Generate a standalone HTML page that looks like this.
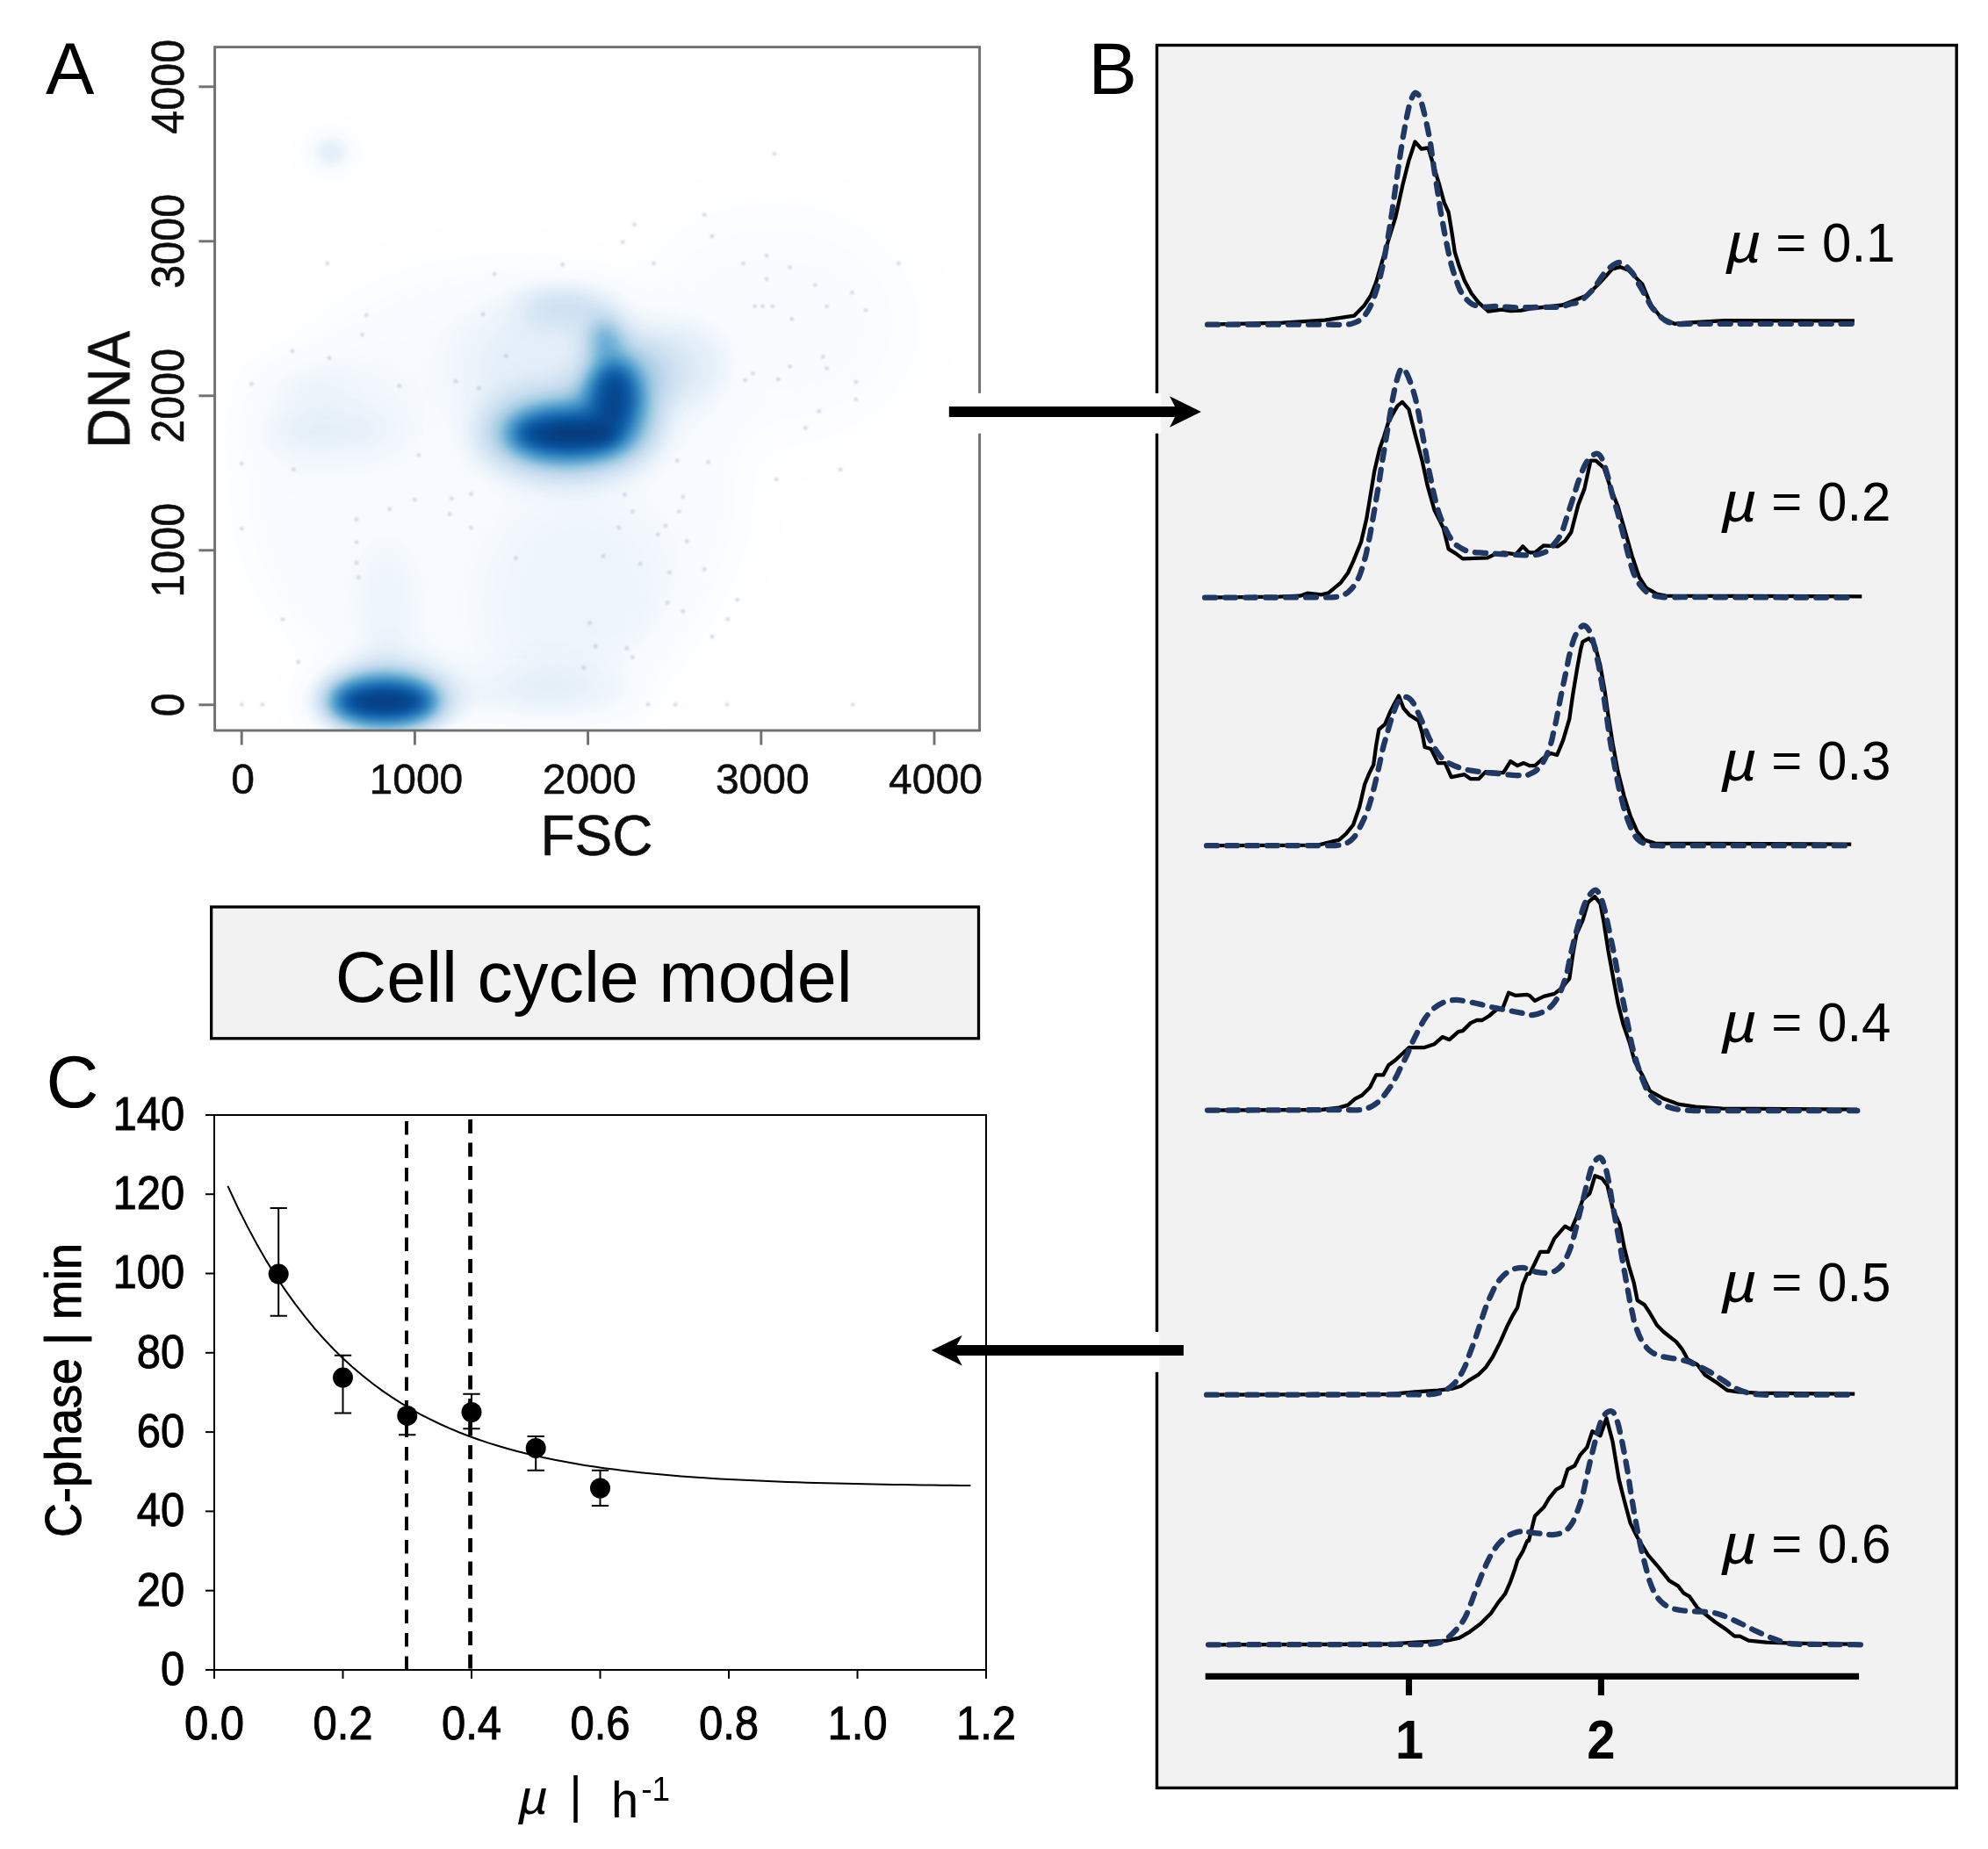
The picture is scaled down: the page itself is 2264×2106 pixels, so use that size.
<!DOCTYPE html>
<html lang="en">
<head>
<meta charset="utf-8">
<title>Cell cycle model figure</title>
<style>
html,body{margin:0;padding:0;background:#fff;}
body{width:2264px;height:2106px;overflow:hidden;}
svg{display:block;}
text{font-family:"Liberation Sans", Arial, Helvetica, sans-serif;fill:#000;}
.al{fill:#0a0a0a;stroke:#0a0a0a;stroke-width:0.5px;}
</style>
</head>
<body>
<svg width="2264" height="2106" viewBox="0 0 2264 2106">
<defs>
<filter id="ramp" x="0" y="0" width="100%" height="100%" color-interpolation-filters="sRGB">
<feComponentTransfer>
<feFuncR type="table" tableValues="0.031 0.031 0.129 0.259 0.420 0.620 0.776 0.871 0.969 1"/>
<feFuncG type="table" tableValues="0.188 0.318 0.443 0.573 0.682 0.792 0.859 0.922 0.984 1"/>
<feFuncB type="table" tableValues="0.420 0.612 0.710 0.776 0.839 0.882 0.937 0.969 1 1"/>
</feComponentTransfer>
</filter>
<filter id="soft" filterUnits="userSpaceOnUse" x="0" y="0" width="1200" height="1000"><feGaussianBlur stdDeviation="0.75"/></filter>
<filter id="b1" filterUnits="userSpaceOnUse" x="150" y="0" width="1060" height="940"><feGaussianBlur stdDeviation="0.9"/></filter>
<filter id="b8" filterUnits="userSpaceOnUse" x="150" y="0" width="1060" height="940"><feGaussianBlur stdDeviation="8"/></filter>
<filter id="b12" filterUnits="userSpaceOnUse" x="150" y="0" width="1060" height="940"><feGaussianBlur stdDeviation="12"/></filter>
<filter id="b18" filterUnits="userSpaceOnUse" x="150" y="0" width="1060" height="940"><feGaussianBlur stdDeviation="18"/></filter>
<filter id="b30" filterUnits="userSpaceOnUse" x="150" y="0" width="1060" height="940"><feGaussianBlur stdDeviation="30"/></filter>
<clipPath id="clipA"><rect x="245" y="54" width="870" height="777"/></clipPath>
</defs>
<rect x="0" y="0" width="2264" height="2106" fill="#fff"/>

<!-- Panel A: density scatter -->
<g clip-path="url(#clipA)"><g filter="url(#ramp)">
<rect x="200" y="20" width="960" height="860" fill="#fff"/>
<ellipse cx="560" cy="560" rx="280" ry="250" fill="#000" fill-opacity="0.1" filter="url(#b30)"/>
<ellipse cx="880" cy="370" rx="160" ry="130" fill="#000" fill-opacity="0.07" filter="url(#b30)"/>
<ellipse cx="660" cy="690" rx="110" ry="130" fill="#000" fill-opacity="0.055" filter="url(#b30)"/>
<ellipse cx="370" cy="468" rx="100" ry="50" fill="#000" fill-opacity="0.055" filter="url(#b30)"/>
<ellipse cx="365" cy="493" rx="95" ry="13" fill="#000" fill-opacity="0.1" filter="url(#b18)"/>
<ellipse cx="330" cy="437" rx="60" ry="13" fill="#000" fill-opacity="0.08" filter="url(#b18)"/>
<ellipse cx="440" cy="700" rx="30" ry="80" fill="#000" fill-opacity="0.065" filter="url(#b18)"/>
<ellipse cx="630" cy="795" rx="110" ry="28" fill="#000" fill-opacity="0.1" filter="url(#b18)"/>
<ellipse cx="377" cy="173" rx="24" ry="20" fill="#000" fill-opacity="0.24" filter="url(#b12)"/>
<ellipse cx="785" cy="410" rx="50" ry="45" fill="#000" fill-opacity="0.115" filter="url(#b18)"/>
<ellipse cx="640" cy="420" rx="120" ry="90" fill="#000" fill-opacity="0.1" filter="url(#b30)"/>
<ellipse cx="648" cy="348" rx="58" ry="12" fill="#000" fill-opacity="0.34" filter="url(#b18)"/>
<ellipse cx="689" cy="386" rx="19" ry="24" fill="#000" fill-opacity="0.42" filter="url(#b12)"/>
<ellipse cx="645" cy="495" rx="100" ry="50" fill="#000" fill-opacity="0.38" filter="url(#b18)"/>
<ellipse cx="708" cy="445" rx="50" ry="60" fill="#000" fill-opacity="0.32" filter="url(#b18)"/>
<ellipse cx="647" cy="494" rx="67" ry="28" fill="#000" fill-opacity="0.87" filter="url(#b12)"/>
<ellipse cx="700" cy="450" rx="29" ry="40" fill="#000" fill-opacity="0.83" filter="url(#b12)"/>
<ellipse cx="655" cy="495" rx="42" ry="11" fill="#000" fill-opacity="0.4" filter="url(#b8)"/>
<ellipse cx="437" cy="798" rx="88" ry="42" fill="#000" fill-opacity="0.36" filter="url(#b18)"/>
<ellipse cx="437" cy="799" rx="61" ry="27" fill="#000" fill-opacity="0.88" filter="url(#b12)"/>
<ellipse cx="437" cy="800" rx="32" ry="10" fill="#000" fill-opacity="0.42" filter="url(#b8)"/>
</g>
<g fill="#7f8db3" fill-opacity="0.32" filter="url(#b1)">
<circle cx="881.9" cy="175.3" r="2.3"/>
<circle cx="802.2" cy="244.8" r="2.3"/>
<circle cx="722.5" cy="255.8" r="2.3"/>
<circle cx="811" cy="269.1" r="2.3"/>
<circle cx="709.2" cy="275.8" r="2.3"/>
<circle cx="372.8" cy="300.1" r="2.3"/>
<circle cx="640.6" cy="301.4" r="2.3"/>
<circle cx="744.6" cy="300.1" r="2.3"/>
<circle cx="846.5" cy="300.1" r="2.3"/>
<circle cx="873" cy="291.3" r="2.3"/>
<circle cx="899.6" cy="304.5" r="2.3"/>
<circle cx="1023.5" cy="300.1" r="2.3"/>
<circle cx="563.2" cy="312.1" r="2.3"/>
<circle cx="873" cy="317.8" r="2.3"/>
<circle cx="928.4" cy="324.5" r="2.3"/>
<circle cx="970.4" cy="333.3" r="2.3"/>
<circle cx="859.7" cy="348.8" r="2.3"/>
<circle cx="868.6" cy="348.8" r="2.3"/>
<circle cx="879.7" cy="348.8" r="2.3"/>
<circle cx="941.6" cy="348.8" r="2.3"/>
<circle cx="985.9" cy="353.2" r="2.3"/>
<circle cx="417.1" cy="359" r="2.3"/>
<circle cx="549.9" cy="357.7" r="2.3"/>
<circle cx="901.8" cy="363.4" r="2.3"/>
<circle cx="412.6" cy="381.1" r="2.3"/>
<circle cx="333" cy="399.7" r="2.3"/>
<circle cx="375" cy="407.7" r="2.3"/>
<circle cx="576.4" cy="405.5" r="2.3"/>
<circle cx="937.2" cy="406.4" r="2.3"/>
<circle cx="899.6" cy="417.4" r="2.3"/>
<circle cx="941.6" cy="419.6" r="2.3"/>
<circle cx="857.5" cy="425.4" r="2.3"/>
<circle cx="886.3" cy="432" r="2.3"/>
<circle cx="848.7" cy="432.9" r="2.3"/>
<circle cx="974.8" cy="435.1" r="2.3"/>
<circle cx="286.5" cy="437.3" r="2.3"/>
<circle cx="454.7" cy="439.6" r="2.3"/>
<circle cx="518.9" cy="434.2" r="2.3"/>
<circle cx="545.4" cy="442.2" r="2.3"/>
<circle cx="974.8" cy="455" r="2.3"/>
<circle cx="932.8" cy="468.3" r="2.3"/>
<circle cx="917.3" cy="487.4" r="2.3"/>
<circle cx="476.8" cy="518.3" r="2.3"/>
<circle cx="771.2" cy="524.5" r="2.3"/>
<circle cx="806.6" cy="526.3" r="2.3"/>
<circle cx="275.4" cy="528.1" r="2.3"/>
<circle cx="334.3" cy="534.7" r="2.3"/>
<circle cx="957.1" cy="534.7" r="2.3"/>
<circle cx="884.1" cy="545.8" r="2.3"/>
<circle cx="711.4" cy="563.5" r="2.3"/>
<circle cx="536.6" cy="562.6" r="2.3"/>
<circle cx="514.5" cy="567.9" r="2.3"/>
<circle cx="472.4" cy="569.3" r="2.3"/>
<circle cx="777.8" cy="565.7" r="2.3"/>
<circle cx="443.6" cy="579.9" r="2.3"/>
<circle cx="720.3" cy="582.5" r="2.3"/>
<circle cx="773.4" cy="582.5" r="2.3"/>
<circle cx="512.2" cy="585.6" r="2.3"/>
<circle cx="406" cy="591.4" r="2.3"/>
<circle cx="757.9" cy="598.9" r="2.3"/>
<circle cx="536.6" cy="601.1" r="2.3"/>
<circle cx="704.8" cy="601.1" r="2.3"/>
<circle cx="275.4" cy="602" r="2.3"/>
<circle cx="749.1" cy="608.7" r="2.3"/>
<circle cx="782.3" cy="616.6" r="2.3"/>
<circle cx="406" cy="617.5" r="2.3"/>
<circle cx="687.1" cy="633.4" r="2.3"/>
<circle cx="587.5" cy="635.7" r="2.3"/>
<circle cx="406" cy="641" r="2.3"/>
<circle cx="729.2" cy="642.3" r="2.3"/>
<circle cx="802.2" cy="648.5" r="2.3"/>
<circle cx="762.4" cy="652" r="2.3"/>
<circle cx="408.2" cy="657.8" r="2.3"/>
<circle cx="839.8" cy="683" r="2.3"/>
<circle cx="760.1" cy="686.6" r="2.3"/>
<circle cx="777.8" cy="696.3" r="2.3"/>
<circle cx="828.8" cy="705.2" r="2.3"/>
<circle cx="321.9" cy="705.2" r="2.3"/>
<circle cx="671.6" cy="709.6" r="2.3"/>
<circle cx="811" cy="725.1" r="2.3"/>
<circle cx="678.2" cy="736.1" r="2.3"/>
<circle cx="713.7" cy="738.4" r="2.3"/>
<circle cx="720.3" cy="748.5" r="2.3"/>
<circle cx="665" cy="760.5" r="2.3"/>
<circle cx="339.6" cy="753.9" r="2.3"/>
<circle cx="275.4" cy="802.5" r="2.3"/>
<circle cx="298.9" cy="802.5" r="2.3"/>
<circle cx="738" cy="802.5" r="2.3"/>
<circle cx="769" cy="802.5" r="2.3"/>
<circle cx="827.9" cy="802.5" r="2.3"/>
<circle cx="971.3" cy="802.5" r="2.3"/>
</g></g>
<g filter="url(#soft)">
<g stroke="#6f6f6f" stroke-width="2.9" fill="none">
<rect x="244.6" y="53.6" width="871" height="778.4"/>
<line x1="226.5" y1="98.8" x2="244.6" y2="98.8"/>
<line x1="226.5" y1="274.8" x2="244.6" y2="274.8"/>
<line x1="226.5" y1="450.8" x2="244.6" y2="450.8"/>
<line x1="226.5" y1="626.8" x2="244.6" y2="626.8"/>
<line x1="226.5" y1="802.8" x2="244.6" y2="802.8"/>
<line x1="275.2" y1="832" x2="275.2" y2="848.5"/>
<line x1="472.4" y1="832" x2="472.4" y2="848.5"/>
<line x1="669.6" y1="832" x2="669.6" y2="848.5"/>
<line x1="866.8" y1="832" x2="866.8" y2="848.5"/>
<line x1="1064" y1="832" x2="1064" y2="848.5"/>
</g>
<text class="al" transform="translate(208.5 98.8) rotate(-90) scale(1 1.05)" font-size="48.5" text-anchor="middle">4000</text>
<text class="al" transform="translate(208.5 274.8) rotate(-90) scale(1 1.05)" font-size="48.5" text-anchor="middle">3000</text>
<text class="al" transform="translate(208.5 450.8) rotate(-90) scale(1 1.05)" font-size="48.5" text-anchor="middle">2000</text>
<text class="al" transform="translate(208.5 626.8) rotate(-90) scale(1 1.05)" font-size="48.5" text-anchor="middle">1000</text>
<text class="al" transform="translate(208.5 802.8) rotate(-90) scale(1 1.05)" font-size="48.5" text-anchor="middle">0</text>
<text class="al" x="276.7" y="904" font-size="48" text-anchor="middle">0</text>
<text class="al" x="473.9" y="904" font-size="48" text-anchor="middle">1000</text>
<text class="al" x="671.1" y="904" font-size="48" text-anchor="middle">2000</text>
<text class="al" x="868.3" y="904" font-size="48" text-anchor="middle">3000</text>
<text class="al" x="1065.5" y="904" font-size="48" text-anchor="middle">4000</text>
<text class="al" transform="translate(147.7 444) rotate(-90) scale(1 1.07)" font-size="63.5" text-anchor="middle">DNA</text>
<text class="al" x="679.5" y="974" font-size="64" text-anchor="middle">FSC</text>
</g>
<text x="52" y="106.7" font-size="83">A</text>
<!-- Panel B -->
<rect x="1317.5" y="51.5" width="910.7" height="1984.9" fill="#f2f2f2" stroke="#000" stroke-width="3.4"/>
<text x="1239.5" y="107" font-size="83">B</text>
<path d="M1375.1 369.7 L1460.6 367.7 L1508.9 364.7 L1542.1 359.7 L1553.2 348.6 L1561.2 336.5 L1567.2 321.4 L1575.3 293.3 L1581.3 273.2 L1589.4 247 L1597.4 210.8 L1604.5 182.6 L1611.5 161.5 L1618.6 169.5 L1626.6 168.5 L1632.6 188.7 L1638.7 208.8 L1644.7 230.9 L1649.7 242 L1653.8 267.1 L1656.8 287.2 L1661.8 303.3 L1667.8 319.4 L1675.9 334.5 L1683.9 344.6 L1695 354.6 L1710.1 352.6 L1720.2 354 L1732.2 353.6 L1742.3 351.6 L1779.4 347.5 L1807.8 336.2 L1822 322 L1836.2 306.4 L1844.7 304.1 L1854.6 307.8 L1870.2 323.4 L1880.2 347.5 L1892.9 363.1 L1907.1 368.8 L1915.6 368 L1963.8 365.1 L2111.9 365.4" fill="none" stroke="#000" stroke-width="4.3" stroke-linejoin="round" stroke-linecap="butt"/>
<path d="M1375.1 369.7 C1378.3 369.7 1388.1 369.7 1394.6 369.7 C1401.1 369.7 1407.6 369.7 1414.1 369.7 C1420.6 369.7 1427.1 369.7 1433.6 369.7 C1440.1 369.7 1446.6 369.7 1453.1 369.7 C1459.6 369.7 1466.1 369.7 1472.6 369.7 C1479 369.7 1485.5 369.7 1492 369.7 C1498.5 369.7 1505 369.7 1511.5 369.7 C1518 369.7 1526.1 370 1531 369.7 C1536 369.5 1537.7 369.3 1541.1 368.1 C1544.4 367 1548.1 365.4 1551.1 362.7 C1554.2 359.9 1556.8 355.8 1559.2 351.6 C1561.5 347.4 1563.2 343.2 1565.2 337.5 C1567.2 331.8 1569.8 322.6 1571.3 317.4 C1572.7 312.2 1572.9 310 1573.8 306.4 C1574.6 302.7 1575.5 299.5 1576.3 295.3 C1577.1 291.1 1578 285.9 1578.8 281.2 C1579.7 276.5 1580.6 271.6 1581.3 267.1 C1582.1 262.6 1582.7 258.4 1583.3 254 C1584 249.7 1584.7 245.5 1585.4 241 C1586 236.4 1586.7 231.6 1587.4 226.9 C1588 222.2 1588.7 217.5 1589.4 212.8 C1590 208.1 1590.7 203.4 1591.4 198.7 C1592.1 194 1592.7 189.2 1593.4 184.6 C1594.1 180.1 1594.7 175.9 1595.4 171.5 C1596.1 167.2 1596.8 162.5 1597.4 158.5 C1598.1 154.4 1598.8 151.1 1599.4 147.4 C1600.1 143.7 1600.4 141.2 1601.4 136.3 C1602.5 131.5 1604.1 122.9 1605.5 118.2 C1606.8 113.5 1608.3 110.2 1609.5 108.2 C1610.7 106.1 1611.3 105.4 1612.5 105.8 C1613.7 106.1 1615.2 107.3 1616.5 110.2 C1617.9 113.1 1619.2 118.2 1620.6 123.3 C1621.9 128.3 1623.2 134.2 1624.6 140.4 C1625.9 146.6 1627.6 154.8 1628.6 160.5 C1629.6 166.2 1630 169.9 1630.6 174.6 C1631.3 179.3 1632 184.1 1632.6 188.7 C1633.3 193.2 1634 197.4 1634.6 201.7 C1635.3 206.1 1636 210.4 1636.7 214.8 C1637.3 219.2 1638 223.5 1638.7 227.9 C1639.3 232.2 1640 236.9 1640.7 241 C1641.4 245 1642 248.3 1642.7 252 C1643.4 255.7 1643.7 257.9 1644.7 263.1 C1645.7 268.3 1647.4 276.8 1648.7 283.2 C1650.1 289.6 1651.2 295.6 1652.8 301.3 C1654.3 307 1656.1 312.6 1657.8 317.4 C1659.5 322.3 1661 326.8 1662.8 330.5 C1664.7 334.2 1666.5 336.9 1668.9 339.6 C1671.2 342.2 1673.4 344.9 1676.9 346.6 C1680.4 348.3 1685.8 349.2 1690 349.6 C1694.2 350 1697.8 349 1702.1 349 C1706.3 349 1710.8 349.5 1715.2 349.7 C1719.6 349.9 1723.5 350.3 1728.4 350.4 C1733.2 350.4 1739.1 350.2 1744.4 350.1 C1749.8 350 1755.2 349.9 1760.5 349.8 C1765.9 349.7 1772 350.1 1776.6 349.5 C1781.2 348.9 1784.2 347.4 1787.9 346.4 C1791.7 345.4 1795 345.9 1799.3 343.3 C1803.6 340.6 1809.9 334.3 1813.5 330.5 C1817 326.7 1818.2 323.9 1820.6 320.6 C1822.9 317.3 1824.6 314 1827.7 310.6 C1830.7 307.3 1835.7 302.5 1839 300.7 C1842.3 298.9 1844.2 298.2 1847.5 299.9 C1850.8 301.5 1856 307.2 1858.9 310.6 C1861.7 314.1 1862.7 317.3 1864.5 320.6 C1866.4 323.9 1868.3 327.2 1870.2 330.5 C1872.1 333.8 1874 337.1 1875.9 340.4 C1877.8 343.7 1878.3 346.3 1881.6 350.4 C1884.9 354.4 1891 361.5 1895.8 364.5 C1900.5 367.6 1904.2 368.1 1909.9 368.8 C1915.7 369.5 1923.4 368.8 1930.1 368.8 C1936.9 368.8 1943.6 368.8 1950.3 368.8 C1957.1 368.8 1963.8 368.8 1970.5 368.8 C1977.3 368.8 1984 368.8 1990.7 368.8 C1997.5 368.8 2004.2 368.8 2010.9 368.8 C2017.7 368.8 2024.4 368.8 2031.1 368.8 C2037.9 368.8 2044.6 368.8 2051.3 368.8 C2058.1 368.8 2064.8 368.8 2071.5 368.8 C2078.3 368.8 2085 368.8 2091.7 368.8 C2098.5 368.8 2108.6 368.8 2111.9 368.8" fill="none" stroke="#1f3864" stroke-width="6.3" stroke-linejoin="round" stroke-linecap="round" stroke-dasharray="12 11"/>
<path d="M1372.1 680.7 L1456.6 679.7 L1480.7 678.7 L1488.8 675.7 L1504.9 677.3 L1512.9 675.3 L1527 663.6 L1535.1 652.5 L1541.1 639.4 L1550.1 617.3 L1556.2 591.1 L1561.2 561 L1565.2 536.8 L1571.3 510.7 L1576.3 496.6 L1581.3 480.5 L1587.4 469.4 L1591.4 462.4 L1597 457.9 L1604.5 466.4 L1611.5 494.6 L1619.6 524.7 L1625.6 552.9 L1633.6 581.1 L1643.7 601.2 L1649.7 625.4 L1657.8 630.4 L1665.8 636.4 L1694 635.4 L1702.1 631.4 L1712.1 629.4 L1726.2 631.4 L1734.2 622.3 L1740.3 628.4 L1743 629.4 L1748 629.4 L1758.1 621.3 L1774.2 622.3 L1782.3 616.3 L1789.3 606.2 L1797.3 575.1 L1804.4 556.9 L1811.4 524.7 L1817.5 524.7 L1826.5 532.8 L1834.6 556.9 L1842.6 577.1 L1850.7 605.2 L1858.7 633.4 L1866.8 657.5 L1874.8 669.6 L1886.9 676.7 L1896.9 678.7 L2120.3 679.3" fill="none" stroke="#000" stroke-width="4.3" stroke-linejoin="round" stroke-linecap="butt"/>
<path d="M1372.1 680.7 C1375.5 680.7 1385.9 680.6 1392.8 680.6 C1399.7 680.6 1406.6 680.6 1413.5 680.6 C1420.4 680.5 1427.3 680.5 1434.2 680.5 C1441.1 680.5 1448 680.5 1454.9 680.5 C1461.8 680.4 1468.7 680.4 1475.6 680.4 C1482.4 680.4 1489.3 680.4 1496.2 680.3 C1503.1 680.3 1511.8 680.6 1516.9 680.3 C1522.1 680 1524 679.6 1527 678.7 C1530 677.7 1532.4 676.8 1535.1 674.6 C1537.7 672.5 1540.8 669.1 1543.1 665.6 C1545.4 662.1 1547.1 658.9 1549.1 653.5 C1551.1 648.2 1553.7 638.8 1555.2 633.4 C1556.6 628 1556.8 625.4 1557.7 621.3 C1558.5 617.3 1559.4 613.6 1560.2 609.3 C1561 604.9 1561.9 599.9 1562.7 595.2 C1563.6 590.5 1564.4 585.9 1565.2 581.1 C1566.1 576.2 1566.9 571 1567.7 566 C1568.6 561 1569.5 555.6 1570.3 550.9 C1571 546.2 1571.6 542.2 1572.3 537.8 C1572.9 533.5 1573.6 528.9 1574.3 524.7 C1575 520.6 1575.6 516.7 1576.3 512.7 C1577 508.7 1577.6 504.6 1578.3 500.6 C1579 496.6 1579.7 492.6 1580.3 488.5 C1581 484.5 1581.7 480.5 1582.3 476.5 C1583 472.4 1583.7 468.4 1584.3 464.4 C1585 460.4 1585.4 457.3 1586.4 452.3 C1587.4 447.3 1589 439.2 1590.4 434.2 C1591.7 429.2 1593.3 424.6 1594.4 422.1 C1595.5 419.6 1595.8 418.8 1597 419.1 C1598.2 419.5 1599.9 421.3 1601.4 424.1 C1603 427 1604.8 431.5 1606.5 436.2 C1608.2 440.9 1610 446.6 1611.5 452.3 C1613 458 1614.5 465.6 1615.5 470.4 C1616.5 475.3 1616.9 477.8 1617.5 481.5 C1618.2 485.2 1618.9 488.9 1619.6 492.6 C1620.2 496.2 1620.9 499.9 1621.6 503.6 C1622.2 507.3 1622.9 511 1623.6 514.7 C1624.3 518.4 1624.9 522.1 1625.6 525.8 C1626.3 529.4 1626.9 533 1627.6 536.8 C1628.4 540.7 1629.3 544.9 1630.1 548.9 C1631 552.9 1631.4 555.6 1632.6 561 C1633.9 566.3 1635.8 575.1 1637.7 581.1 C1639.5 587.1 1641.7 592.5 1643.7 597.2 C1645.7 601.9 1647.7 605.7 1649.7 609.3 C1651.8 612.8 1653.4 615.8 1655.8 618.3 C1658.1 620.8 1660.8 622.7 1663.8 624.3 C1666.8 626 1669.5 627.5 1673.9 628.4 C1678.2 629.3 1685.3 629.4 1690 629.8 C1694.7 630.1 1698 630.3 1702.1 630.6 C1706.1 630.9 1710.1 631.2 1714.1 631.4 C1718.1 631.6 1722.2 631.7 1726.2 631.9 C1730.2 632.1 1735.6 632.3 1738.3 632.4 C1740.9 632.5 1739.7 632.6 1742 632.4 C1744.3 632.2 1748.7 632.2 1752.1 631.4 C1755.4 630.5 1759.1 629.4 1762.1 627.4 C1765.2 625.4 1767.5 622.7 1770.2 619.3 C1772.9 616 1775.9 612.3 1778.2 607.2 C1780.6 602.2 1782.3 595.2 1784.3 589.1 C1786.3 583.1 1788.7 575.9 1790.3 571 C1791.9 566.2 1792.6 563.6 1793.8 560 C1795 556.3 1795.6 553.8 1797.3 548.9 C1799.1 544 1802.2 535.3 1804.4 530.8 C1806.6 526.3 1808.1 524.1 1810.4 521.7 C1812.8 519.4 1816.1 516.5 1818.5 516.7 C1820.8 516.9 1822.5 518.7 1824.5 522.7 C1826.5 526.8 1829 535.8 1830.5 540.8 C1832.1 545.9 1832.6 548.9 1833.6 552.9 C1834.6 556.9 1835.1 559.6 1836.6 565 C1838.1 570.4 1841.1 579.7 1842.6 585.1 C1844.1 590.5 1844.6 593.2 1845.6 597.2 C1846.6 601.2 1847.6 605.2 1848.7 609.3 C1849.7 613.3 1850.7 617.3 1851.7 621.3 C1852.7 625.4 1853.2 628 1854.7 633.4 C1856.2 638.8 1858.4 647.8 1860.7 653.5 C1863.1 659.2 1865.8 663.7 1868.8 667.6 C1871.8 671.5 1874.8 674.6 1878.8 676.7 C1882.9 678.7 1886.9 679.5 1892.9 680.1 C1898.9 680.7 1907.5 680.1 1914.8 680.1 C1922.2 680.2 1929.5 680.2 1936.8 680.2 C1944.1 680.2 1951.4 680.2 1958.7 680.3 C1966 680.3 1973.3 680.3 1980.6 680.3 C1988 680.3 1995.3 680.4 2002.6 680.4 C2009.9 680.4 2017.2 680.4 2024.5 680.4 C2031.8 680.5 2039.1 680.5 2046.4 680.5 C2053.7 680.5 2061.1 680.5 2068.4 680.6 C2075.7 680.6 2083 680.6 2090.3 680.6 C2097.6 680.6 2108.6 680.7 2112.2 680.7" fill="none" stroke="#1f3864" stroke-width="6.3" stroke-linejoin="round" stroke-linecap="round" stroke-dasharray="12 11"/>
<path d="M1374.1 963.2 L1500.8 962.6 L1512.9 959.6 L1525 956.6 L1533 949.6 L1541.1 939.5 L1548.1 919.4 L1554.2 893.2 L1559.2 881.1 L1564.2 871.1 L1567.2 849 L1570.3 830.8 L1577.3 824.8 L1583.3 810.7 L1588.4 800.7 L1593 792.6 L1598.4 806.7 L1605.5 814.7 L1615.5 820.8 L1619.6 834.9 L1622.6 851 L1629.6 853 L1637.7 869.1 L1645.7 869.1 L1652.8 885.2 L1667.8 882.2 L1674.9 887.2 L1683.9 887.2 L1692 879.1 L1712.1 880.1 L1720.2 867.1 L1728.2 872.1 L1735.3 869.1 L1742 872.1 L1748 872.1 L1758.1 863 L1766.2 858 L1773.2 860 L1780.2 842.9 L1787.3 818.8 L1791.3 790.6 L1796.3 760.4 L1800.4 738.3 L1802.4 731.2 L1809.4 727.2 L1816.5 735.3 L1822.5 758.4 L1827.5 786.6 L1831.5 814.7 L1836.6 846.9 L1842.6 879.1 L1849.7 907.3 L1856.7 929.4 L1864.7 947.5 L1872.8 956.6 L1884.9 960.6 L2108.2 961.6" fill="none" stroke="#000" stroke-width="4.3" stroke-linejoin="round" stroke-linecap="butt"/>
<path d="M1374.1 963.2 C1377.6 963.2 1388.1 963.2 1395.1 963.2 C1402.1 963.2 1409.1 963.2 1416.1 963.2 C1423 963.2 1430 963.2 1437 963.2 C1444 963.1 1451 963.1 1458 963.1 C1465 963.1 1472 963.1 1479 963.1 C1486 963.1 1493 963.1 1500 963.1 C1507 963.1 1515.5 963.4 1521 963 C1526.5 962.6 1529.5 962.2 1533 960.6 C1536.6 959 1539.2 957.1 1542.1 953.6 C1544.9 950.1 1547.6 944.5 1550.1 939.5 C1552.7 934.5 1555.2 928.8 1557.2 923.4 C1559.2 918 1560.5 913.3 1562.2 907.3 C1563.9 901.3 1565.7 893.6 1567.2 887.2 C1568.8 880.8 1569.9 875.1 1571.3 869.1 C1572.6 863 1574 856.3 1575.3 851 C1576.6 845.6 1578 841.6 1579.3 836.9 C1580.7 832.2 1582 827.2 1583.3 822.8 C1584.7 818.4 1586 814.4 1587.4 810.7 C1588.7 807 1589.9 803.3 1591.4 800.7 C1592.9 798 1594.4 795.6 1596.4 794.6 C1598.4 793.6 1601.3 793.6 1603.5 794.6 C1605.6 795.6 1607.5 797.6 1609.5 800.7 C1611.5 803.7 1613.5 808.4 1615.5 812.7 C1617.5 817.1 1619.6 822.1 1621.6 826.8 C1623.6 831.5 1625.3 836.2 1627.6 840.9 C1630 845.6 1633 851 1635.7 855 C1638.3 859 1640.7 862.4 1643.7 865.1 C1646.7 867.7 1649.7 869.2 1653.8 871.1 C1657.8 872.9 1662.5 874.8 1667.8 876.1 C1673.2 877.5 1679.6 878.3 1686 879.1 C1692.3 880 1699.4 880.5 1706.1 881.1 C1712.8 881.8 1720.8 882.9 1726.2 883.2 C1731.6 883.4 1735.8 882.7 1738.3 882.6 C1740.7 882.4 1739 883.1 1741 882.2 C1743 881.2 1747 880 1750.1 877.1 C1753.1 874.3 1756.4 870.1 1759.1 865.1 C1761.8 860 1764.5 852.1 1766.2 846.9 C1767.8 841.7 1768.2 838.2 1769.2 833.9 C1770.2 829.5 1771.3 825.1 1772.2 820.8 C1773.1 816.4 1773.9 812.1 1774.7 807.7 C1775.5 803.3 1776.4 798.8 1777.2 794.6 C1778.1 790.4 1778.9 786.6 1779.7 782.6 C1780.6 778.5 1781.4 774.5 1782.3 770.5 C1783.1 766.5 1783.9 762.4 1784.8 758.4 C1785.6 754.4 1786 751.4 1787.3 746.3 C1788.5 741.3 1790.6 732.9 1792.3 728.2 C1794 723.5 1795.5 720.8 1797.3 718.2 C1799.2 715.6 1801.2 712.4 1803.4 712.5 C1805.6 712.7 1808.2 714.9 1810.4 719.2 C1812.6 723.5 1815 733.1 1816.5 738.3 C1817.9 743.5 1818.1 746.3 1819 750.4 C1819.8 754.4 1820.7 758.4 1821.5 762.4 C1822.2 766.5 1822.8 770.5 1823.5 774.5 C1824.2 778.5 1824.8 782.2 1825.5 786.6 C1826.2 790.9 1826.9 796 1827.5 800.7 C1828.2 805.4 1828.9 810.1 1829.5 814.7 C1830.2 819.4 1830.9 824.1 1831.5 828.8 C1832.2 833.5 1832.8 838.2 1833.6 842.9 C1834.3 847.6 1835.2 852.3 1836.1 857 C1836.9 861.7 1837.8 866.6 1838.6 871.1 C1839.4 875.6 1840.3 879.8 1841.1 884.2 C1841.9 888.5 1842.7 893.1 1843.6 897.2 C1844.5 901.4 1845.6 905.3 1846.6 909.3 C1847.6 913.3 1848 916 1849.7 921.4 C1851.3 926.8 1854.2 935.8 1856.7 941.5 C1859.2 947.2 1861.7 952.2 1864.7 955.6 C1867.8 958.9 1871.1 960.4 1874.8 961.6 C1878.5 962.9 1881.5 963 1886.9 963.2 C1892.2 963.5 1900.3 963.2 1907 963.2 C1913.7 963.2 1920.4 963.2 1927.1 963.2 C1933.8 963.2 1940.5 963.2 1947.2 963.2 C1954 963.2 1960.7 963.2 1967.4 963.2 C1974.1 963.2 1980.8 963.2 1987.5 963.2 C1994.2 963.2 2000.9 963.2 2007.6 963.2 C2014.3 963.2 2021 963.2 2027.7 963.2 C2034.4 963.2 2041.1 963.2 2047.8 963.2 C2054.6 963.2 2061.3 963.2 2068 963.2 C2074.7 963.2 2081.4 963.2 2088.1 963.2 C2094.8 963.2 2104.9 963.2 2108.2 963.2" fill="none" stroke="#1f3864" stroke-width="6.3" stroke-linejoin="round" stroke-linecap="round" stroke-dasharray="12 11"/>
<path d="M1375.1 1264.6 L1504.9 1264 L1525 1261.6 L1535.1 1258.6 L1543.1 1251.6 L1551.1 1247.5 L1560.2 1238.5 L1567.2 1224.4 L1575.3 1224.4 L1581.3 1213.3 L1589.4 1207.3 L1604.5 1193.2 L1621.6 1193.2 L1633.6 1189.2 L1642.7 1181.1 L1650.7 1184.2 L1660.8 1175.1 L1665.8 1174.1 L1674.9 1165.1 L1681.9 1162 L1688 1162 L1696 1157 L1704.1 1150 L1711.1 1149 L1718.1 1130.8 L1726.2 1133.9 L1739.3 1132.9 L1742 1133.9 L1748 1139.9 L1758.1 1134.9 L1770.2 1131.9 L1778.2 1125.8 L1787.3 1114.7 L1791.3 1086.6 L1795.3 1064.4 L1802.4 1048.4 L1808.4 1028.2 L1816.1 1021.2 L1822.5 1029.2 L1826.5 1050.4 L1831.5 1082.6 L1836.6 1110.7 L1842.6 1142.9 L1848.7 1167.1 L1855.7 1187.2 L1861.7 1209.3 L1870.8 1225.4 L1878.8 1242.5 L1894.9 1251.6 L1911 1257.6 L1931.1 1260.6 L1961.3 1262.6 L2115.3 1263.6" fill="none" stroke="#000" stroke-width="4.3" stroke-linejoin="round" stroke-linecap="butt"/>
<path d="M1375.1 1264.6 C1378.7 1264.6 1389.6 1264.6 1396.8 1264.6 C1404.1 1264.5 1411.3 1264.5 1418.6 1264.5 C1425.9 1264.5 1433.1 1264.4 1440.4 1264.4 C1447.6 1264.4 1454.9 1264.4 1462.1 1264.3 C1469.4 1264.3 1476.6 1264.3 1483.9 1264.3 C1491.1 1264.2 1498.4 1264.2 1505.6 1264.2 C1512.9 1264.2 1520.1 1264.1 1527.4 1264.1 C1534.6 1264.1 1543.5 1264.6 1549.1 1264 C1554.8 1263.5 1557.5 1262.4 1561.2 1260.6 C1564.9 1258.9 1568.2 1256.4 1571.3 1253.6 C1574.3 1250.7 1576.6 1247.2 1579.3 1243.5 C1582 1239.8 1584.7 1236.1 1587.4 1231.4 C1590 1226.8 1592.9 1220.4 1595.4 1215.4 C1597.9 1210.3 1600.3 1206 1602.5 1201.3 C1604.6 1196.6 1606.3 1191.9 1608.5 1187.2 C1610.7 1182.5 1613 1177.8 1615.5 1173.1 C1618 1168.4 1620.6 1163.2 1623.6 1159 C1626.6 1154.8 1630 1151 1633.6 1147.9 C1637.3 1144.9 1641.7 1142.4 1645.7 1140.9 C1649.7 1139.4 1653.8 1139 1657.8 1138.9 C1661.8 1138.8 1665.2 1139.7 1669.9 1140.5 C1674.6 1141.3 1680.6 1142.7 1686 1143.9 C1691.3 1145.2 1696.7 1146.8 1702.1 1147.9 C1707.4 1149.1 1712.8 1150 1718.1 1151 C1723.5 1152 1729.6 1153.1 1734.2 1154 C1738.9 1154.8 1741.7 1156.5 1746 1156 C1750.3 1155.5 1756.1 1153.3 1760.1 1151 C1764.1 1148.6 1767.2 1145.9 1770.2 1141.9 C1773.2 1137.9 1775.9 1132.4 1778.2 1126.8 C1780.6 1121.3 1782.8 1113.7 1784.3 1108.7 C1785.7 1103.7 1785.9 1100.7 1786.8 1096.6 C1787.6 1092.6 1788 1089.9 1789.3 1084.6 C1790.6 1079.2 1792.6 1070.8 1794.3 1064.4 C1796 1058.1 1797.7 1052 1799.4 1046.3 C1801 1040.6 1802.5 1034.8 1804.4 1030.2 C1806.2 1025.7 1808.2 1021.9 1810.4 1019.2 C1812.6 1016.4 1815.3 1013.1 1817.5 1013.7 C1819.6 1014.4 1821.7 1018.8 1823.5 1023.2 C1825.3 1027.6 1827.3 1035.4 1828.5 1040.3 C1829.8 1045.2 1830.2 1048.4 1831 1052.4 C1831.9 1056.4 1832.7 1060.4 1833.6 1064.4 C1834.4 1068.5 1835.2 1072.5 1836.1 1076.5 C1836.9 1080.5 1837.8 1084.7 1838.6 1088.6 C1839.3 1092.4 1839.9 1096 1840.6 1099.7 C1841.3 1103.3 1841.6 1105.5 1842.6 1110.7 C1843.6 1115.9 1845.3 1124.1 1846.6 1130.8 C1848 1137.6 1849.3 1144.3 1850.7 1151 C1852 1157.7 1853.3 1164.4 1854.7 1171.1 C1856 1177.8 1857.2 1184.8 1858.7 1191.2 C1860.2 1197.6 1861.9 1203.3 1863.7 1209.3 C1865.6 1215.4 1867.6 1221.7 1869.8 1227.4 C1872 1233.1 1874.1 1239.2 1876.8 1243.5 C1879.5 1247.9 1882.5 1250.9 1885.9 1253.6 C1889.2 1256.3 1892.7 1257.9 1896.9 1259.6 C1901.1 1261.3 1905.3 1262.7 1911 1263.6 C1916.7 1264.5 1924.4 1264.8 1931.1 1265.1 C1937.9 1265.3 1944.8 1265.1 1951.6 1265.1 C1958.4 1265.1 1965.2 1265.1 1972.1 1265.1 C1978.9 1265.1 1985.7 1265.1 1992.5 1265.1 C1999.3 1265.1 2006.2 1265.1 2013 1265.1 C2019.8 1265.1 2026.6 1265.1 2033.4 1265.1 C2040.2 1265.1 2047.1 1265.1 2053.9 1265.1 C2060.7 1265.1 2067.5 1265.1 2074.3 1265.1 C2081.2 1265.1 2088 1265.1 2094.8 1265.1 C2101.6 1265.1 2111.8 1265.1 2115.3 1265.1" fill="none" stroke="#1f3864" stroke-width="6.3" stroke-linejoin="round" stroke-linecap="round" stroke-dasharray="12 11"/>
<path d="M1374.1 1588.7 L1581.3 1588.1 L1611.5 1585.3 L1637.7 1583.7 L1653.8 1581.7 L1663.8 1578.7 L1673.9 1571.6 L1683.9 1565.6 L1692 1557.5 L1700 1545.5 L1708.1 1529.4 L1716.1 1511.3 L1722.2 1499.2 L1728.2 1489.1 L1731.2 1475.1 L1734.2 1463 L1739.3 1450.9 L1742 1450.9 L1748 1438.8 L1754.1 1425.8 L1763.1 1425.8 L1770.2 1410.7 L1782.3 1396.6 L1789.3 1400.6 L1795.3 1386.5 L1802.4 1366.4 L1810.4 1359.4 L1816.5 1339.2 L1824.5 1342.3 L1830.5 1350.3 L1836.6 1376.5 L1844.6 1394.6 L1849.7 1420.7 L1854.7 1440.8 L1860.7 1461 L1864.7 1481.1 L1872.8 1486.1 L1878.8 1495.2 L1886.9 1509.3 L1894.9 1517.3 L1909 1528.4 L1916.1 1537.4 L1922.1 1548.5 L1933.2 1554.5 L1941.2 1565.6 L1953.3 1573.6 L1967.4 1583.7 L1979.4 1585.3 L2001.6 1586.7 L2112.2 1587.7" fill="none" stroke="#000" stroke-width="4.3" stroke-linejoin="round" stroke-linecap="butt"/>
<path d="M1374.1 1588.7 C1377.6 1588.7 1388.2 1588.7 1395.2 1588.7 C1402.3 1588.7 1409.3 1588.7 1416.3 1588.7 C1423.4 1588.7 1430.4 1588.6 1437.5 1588.6 C1444.5 1588.6 1451.5 1588.6 1458.6 1588.6 C1465.6 1588.6 1472.7 1588.6 1479.7 1588.6 C1486.8 1588.6 1493.8 1588.5 1500.8 1588.5 C1507.9 1588.5 1514.9 1588.5 1522 1588.5 C1529 1588.5 1536.1 1588.5 1543.1 1588.5 C1550.1 1588.5 1557.2 1588.4 1564.2 1588.4 C1571.3 1588.4 1578.3 1588.4 1585.4 1588.4 C1592.4 1588.4 1599.4 1588.4 1606.5 1588.4 C1613.5 1588.4 1621.7 1588.8 1627.6 1588.3 C1633.5 1587.9 1637.7 1587.2 1641.7 1585.7 C1645.7 1584.3 1648.7 1582 1651.8 1579.7 C1654.8 1577.3 1657.1 1575.3 1659.8 1571.6 C1662.5 1567.9 1665.5 1562.6 1667.8 1557.5 C1670.2 1552.5 1671.9 1546.8 1673.9 1541.4 C1675.9 1536.1 1677.9 1531.1 1679.9 1525.4 C1681.9 1519.7 1683.9 1513.3 1686 1507.2 C1688 1501.2 1690 1494.5 1692 1489.1 C1694 1483.8 1696 1479.4 1698 1475.1 C1700 1470.7 1701.7 1466.7 1704.1 1463 C1706.4 1459.3 1709.1 1455.8 1712.1 1452.9 C1715.1 1450.1 1718.5 1447.4 1722.2 1445.9 C1725.9 1444.4 1731.3 1443.9 1734.2 1443.9 C1737.2 1443.9 1737.4 1445 1740 1445.9 C1742.6 1446.7 1746.4 1448.2 1750.1 1448.9 C1753.7 1449.6 1758.4 1450.2 1762.1 1449.9 C1765.8 1449.6 1769.2 1448.7 1772.2 1446.9 C1775.2 1445 1777.7 1442.5 1780.2 1438.8 C1782.8 1435.1 1785.3 1429.8 1787.3 1424.7 C1789.3 1419.7 1790.6 1414.7 1792.3 1408.7 C1794 1402.6 1795.7 1395.2 1797.3 1388.5 C1799 1381.8 1800.7 1375.1 1802.4 1368.4 C1804.1 1361.7 1805.7 1354.7 1807.4 1348.3 C1809.1 1341.9 1810.6 1334.9 1812.4 1330.2 C1814.3 1325.5 1816.6 1322 1818.5 1320.1 C1820.3 1318.3 1821.8 1317.4 1823.5 1319.1 C1825.2 1320.8 1827 1325.3 1828.5 1330.2 C1830 1335 1831.5 1343.3 1832.6 1348.3 C1833.6 1353.3 1833.9 1356.3 1834.6 1360.4 C1835.2 1364.4 1835.9 1368.6 1836.6 1372.4 C1837.3 1376.3 1837.9 1379.8 1838.6 1383.5 C1839.3 1387.2 1839.9 1390.9 1840.6 1394.6 C1841.3 1398.3 1841.9 1401.9 1842.6 1405.6 C1843.3 1409.3 1844 1412.8 1844.6 1416.7 C1845.3 1420.6 1846 1424.7 1846.6 1428.8 C1847.3 1432.8 1848 1437 1848.7 1440.8 C1849.3 1444.7 1850 1448.2 1850.7 1451.9 C1851.3 1455.6 1852 1459.3 1852.7 1463 C1853.3 1466.7 1854 1470.4 1854.7 1474 C1855.4 1477.7 1855.9 1481.4 1856.7 1485.1 C1857.5 1488.8 1858.4 1492.5 1859.2 1496.2 C1860.1 1499.9 1860.1 1502.4 1861.7 1507.2 C1863.3 1512.1 1865.9 1520.2 1868.8 1525.4 C1871.6 1530.5 1875.1 1535.2 1878.8 1538.4 C1882.5 1541.6 1886.2 1543 1890.9 1544.5 C1895.6 1546 1902 1546.5 1907 1547.5 C1912 1548.5 1916.7 1549.2 1921.1 1550.5 C1925.4 1551.8 1928.8 1553.5 1933.2 1555.5 C1937.5 1557.5 1942.5 1559.9 1947.2 1562.6 C1951.9 1565.3 1956.6 1568.6 1961.3 1571.6 C1966 1574.6 1970.4 1578.2 1975.4 1580.7 C1980.4 1583.2 1986.1 1585.4 1991.5 1586.7 C1996.9 1588.1 2001.4 1588.4 2007.6 1588.7 C2013.8 1589.1 2021.6 1588.7 2028.5 1588.7 C2035.5 1588.7 2042.5 1588.7 2049.5 1588.7 C2056.4 1588.7 2063.4 1588.7 2070.4 1588.7 C2077.4 1588.7 2084.3 1588.7 2091.3 1588.7 C2098.3 1588.7 2108.7 1588.7 2112.2 1588.7" fill="none" stroke="#1f3864" stroke-width="6.3" stroke-linejoin="round" stroke-linecap="round" stroke-dasharray="12 11"/>
<path d="M1376.1 1873.3 L1581.3 1872.7 L1611.5 1870.7 L1631.6 1869.7 L1647.7 1868.7 L1661.8 1865.7 L1673.9 1858.6 L1686 1849.6 L1698 1837.5 L1706.1 1825.4 L1714.1 1815.4 L1720.2 1801.3 L1725.2 1787.2 L1728.2 1777.1 L1734.2 1767.1 L1739.3 1755 L1741 1755 L1748 1726.8 L1758.1 1716.8 L1764.1 1706.7 L1772.2 1696.6 L1779.2 1692.6 L1785.3 1673.5 L1793.3 1669.5 L1799.4 1657.4 L1807.4 1648.4 L1813.4 1630.2 L1822.5 1635.3 L1829.5 1615.2 L1836.6 1642.3 L1840.6 1666.5 L1843.6 1684.6 L1849.7 1708.7 L1856.7 1734.9 L1864.7 1751 L1876.8 1771.1 L1888.9 1785.2 L1901 1800.3 L1911 1806.3 L1917.1 1814.3 L1924.1 1818.4 L1933.2 1831.4 L1943.2 1839.5 L1953.3 1847.5 L1965.4 1855.6 L1975.4 1863.6 L1981.4 1863.6 L1991.5 1868.7 L2011.6 1870.7 L2041.8 1871.7 L2108.2 1872.7" fill="none" stroke="#000" stroke-width="4.3" stroke-linejoin="round" stroke-linecap="butt"/>
<path d="M1376.1 1873.3 C1379.6 1873.3 1390 1873.3 1396.9 1873.3 C1403.8 1873.3 1410.7 1873.2 1417.7 1873.2 C1424.6 1873.2 1431.5 1873.2 1438.5 1873.2 C1445.4 1873.2 1452.3 1873.2 1459.3 1873.2 C1466.2 1873.2 1473.1 1873.1 1480.1 1873.1 C1487 1873.1 1493.9 1873.1 1500.8 1873.1 C1507.8 1873.1 1514.7 1873.1 1521.6 1873.1 C1528.6 1873.1 1535.5 1873 1542.4 1873 C1549.4 1873 1556.3 1873 1563.2 1873 C1570.1 1873 1577.1 1873 1584 1873 C1590.9 1873 1597.9 1872.9 1604.8 1872.9 C1611.7 1872.9 1619.8 1873.3 1625.6 1872.9 C1631.4 1872.5 1635.7 1872.1 1639.7 1870.7 C1643.7 1869.3 1646.4 1867.3 1649.7 1864.6 C1653.1 1862 1656.8 1858.1 1659.8 1854.6 C1662.8 1851.1 1665.5 1847.7 1667.8 1843.5 C1670.2 1839.3 1671.9 1834.5 1673.9 1829.4 C1675.9 1824.4 1677.9 1818.7 1679.9 1813.3 C1681.9 1808 1683.9 1802.3 1686 1797.2 C1688 1792.2 1690 1787.5 1692 1783.2 C1694 1778.8 1695.7 1775.1 1698 1771.1 C1700.4 1767.1 1703.1 1762.5 1706.1 1759 C1709.1 1755.5 1712.4 1752.3 1716.1 1750 C1719.8 1747.6 1724.5 1745.8 1728.2 1744.9 C1731.9 1744 1736.3 1744.5 1738.3 1744.5 C1740.2 1744.5 1737 1744.5 1740 1744.9 C1743 1745.3 1751.1 1746.4 1756.1 1746.9 C1761.1 1747.4 1765.8 1748.5 1770.2 1747.9 C1774.5 1747.4 1778.9 1746.1 1782.3 1743.9 C1785.6 1741.7 1787.8 1739.1 1790.3 1734.9 C1792.8 1730.7 1795.3 1724.1 1797.3 1718.8 C1799.4 1713.4 1800.9 1708.4 1802.4 1702.7 C1803.9 1697 1805.1 1690.6 1806.4 1684.6 C1807.7 1678.5 1809.1 1672.2 1810.4 1666.5 C1811.8 1660.8 1813.1 1655.7 1814.4 1650.4 C1815.8 1645 1817 1639.6 1818.5 1634.3 C1820 1628.9 1821.7 1622.4 1823.5 1618.2 C1825.3 1614 1827.4 1610.8 1829.5 1609.1 C1831.7 1607.4 1834.6 1606.6 1836.6 1608.1 C1838.6 1609.6 1840.1 1613.8 1841.6 1618.2 C1843.1 1622.5 1844.3 1628.2 1845.6 1634.3 C1847 1640.3 1848.7 1649.2 1849.7 1654.4 C1850.7 1659.6 1851 1661.8 1851.7 1665.5 C1852.3 1669.1 1852.8 1671.3 1853.7 1676.5 C1854.5 1681.7 1855.9 1691.3 1856.7 1696.6 C1857.5 1702 1858 1704.7 1858.7 1708.7 C1859.4 1712.7 1860.1 1716.9 1860.7 1720.8 C1861.4 1724.6 1862.1 1728.2 1862.7 1731.9 C1863.4 1735.5 1863.7 1737.7 1864.7 1742.9 C1865.8 1748.1 1867.3 1756.3 1868.8 1763 C1870.3 1769.7 1872.1 1776.8 1873.8 1783.2 C1875.5 1789.5 1877 1795.9 1878.8 1801.3 C1880.7 1806.6 1882.5 1811.3 1884.9 1815.4 C1887.2 1819.4 1889.9 1822.7 1892.9 1825.4 C1895.9 1828.1 1899 1829.9 1903 1831.4 C1907 1833 1912 1833.8 1917.1 1834.5 C1922.1 1835.1 1927.8 1835.1 1933.2 1835.5 C1938.5 1835.8 1944.2 1835.6 1949.3 1836.5 C1954.3 1837.3 1958 1838.5 1963.3 1840.5 C1968.7 1842.5 1975.4 1845.7 1981.4 1848.6 C1987.5 1851.4 1993.5 1854.8 1999.6 1857.6 C2005.6 1860.5 2012.3 1863.5 2017.7 1865.7 C2023 1867.8 2027.1 1869.5 2031.8 1870.7 C2036.4 1871.9 2040.3 1872.3 2045.8 1872.7 C2051.4 1873.1 2058.6 1872.8 2064.9 1872.8 C2071.3 1872.9 2077.7 1872.9 2084.1 1873 C2090.4 1873 2096.8 1873.1 2103.2 1873.1 C2109.6 1873.2 2119.1 1873.3 2122.3 1873.3" fill="none" stroke="#1f3864" stroke-width="6.3" stroke-linejoin="round" stroke-linecap="round" stroke-dasharray="12 11"/>
<text transform="translate(1965.2 298.8) scale(1.19 1.08)" font-size="60" font-style="italic">µ</text>
<text transform="translate(2022.2 294.7) scale(1 0.925)" font-size="60">=</text>
<text transform="translate(2075.1 297.8) scale(1 1.05)" font-size="60">0.1</text>
<text transform="translate(1960.2 593.9) scale(1.19 1.08)" font-size="60" font-style="italic">µ</text>
<text transform="translate(2017.2 589.8) scale(1 0.925)" font-size="60">=</text>
<text transform="translate(2070.1 592.9) scale(1 1.05)" font-size="60">0.2</text>
<text transform="translate(1960.2 888.9) scale(1.19 1.08)" font-size="60" font-style="italic">µ</text>
<text transform="translate(2017.2 884.8) scale(1 0.925)" font-size="60">=</text>
<text transform="translate(2070.1 887.9) scale(1 1.05)" font-size="60">0.3</text>
<text transform="translate(1960.2 1186.9) scale(1.19 1.08)" font-size="60" font-style="italic">µ</text>
<text transform="translate(2017.2 1182.8) scale(1 0.925)" font-size="60">=</text>
<text transform="translate(2070.1 1185.9) scale(1 1.05)" font-size="60">0.4</text>
<text transform="translate(1960.2 1482.8) scale(1.19 1.08)" font-size="60" font-style="italic">µ</text>
<text transform="translate(2017.2 1478.7) scale(1 0.925)" font-size="60">=</text>
<text transform="translate(2070.1 1481.8) scale(1 1.05)" font-size="60">0.5</text>
<text transform="translate(1960.2 1780.8) scale(1.19 1.08)" font-size="60" font-style="italic">µ</text>
<text transform="translate(2017.2 1776.7) scale(1 0.925)" font-size="60">=</text>
<text transform="translate(2070.1 1779.8) scale(1 1.05)" font-size="60">0.6</text>
<g stroke="#000" stroke-width="7.1" fill="none">
<line x1="1372.7" y1="1909.4" x2="2117.1" y2="1909.4"/>
<line x1="1604.5" y1="1909.6" x2="1604.5" y2="1931"/>
<line x1="1823.4" y1="1909.6" x2="1823.4" y2="1931"/>
</g>
<text transform="translate(1605.2 2003.2) scale(1 1.085)" font-size="58" font-weight="bold" text-anchor="middle">1</text>
<text transform="translate(1823.5 2003.2) scale(1 1.085)" font-size="58" font-weight="bold" text-anchor="middle">2</text>
<!-- Model box -->
<rect x="240.65" y="1033" width="873.85" height="149.8" fill="#f2f2f2" stroke="#000" stroke-width="3.3"/>
<text x="676.2" y="1141" font-size="80.9" text-anchor="middle">Cell cycle model</text>
<!-- Arrows -->
<rect x="1076" y="447.9" width="246" height="45.8" fill="#fff"/>
<path d="M1080.8 462.9 H1338 L1332 451.2 L1367.9 468.9 L1332 486.8 L1338 474.9 H1080.8 Z" fill="#000"/>
<rect x="1040" y="1517" width="280.2" height="45.8" fill="#fff"/>
<path d="M1347.9 1532 H1089.8 L1095.8 1521 L1060.8 1538 L1095.8 1555.5 L1089.8 1544.1 H1347.9 Z" fill="#000"/>
<!-- Panel C -->
<text x="52.5" y="1261" font-size="83">C</text>
<g stroke="#000" stroke-width="2" fill="none">
<path d="M234 1269.9 H1123 V1912"/>
<path d="M244 1269.9 V1912"/>
<path d="M234 1902 H1123"/>
<line x1="234" y1="1811.7" x2="244" y2="1811.7"/>
<line x1="234" y1="1721.4" x2="244" y2="1721.4"/>
<line x1="234" y1="1631.1" x2="244" y2="1631.1"/>
<line x1="234" y1="1540.8" x2="244" y2="1540.8"/>
<line x1="234" y1="1450.5" x2="244" y2="1450.5"/>
<line x1="234" y1="1360.2" x2="244" y2="1360.2"/>
<line x1="390.5" y1="1902" x2="390.5" y2="1912"/>
<line x1="537" y1="1902" x2="537" y2="1912"/>
<line x1="683.5" y1="1902" x2="683.5" y2="1912"/>
<line x1="830" y1="1902" x2="830" y2="1912"/>
<line x1="976.5" y1="1902" x2="976.5" y2="1912"/>
</g>
<g stroke="#000" stroke-width="0.9">
<text transform="translate(210.3 1918.8) scale(1 1.10)" font-size="49" text-anchor="end">0</text>
<text transform="translate(210.3 1828.5) scale(1 1.10)" font-size="49" text-anchor="end">20</text>
<text transform="translate(210.3 1738.2) scale(1 1.10)" font-size="49" text-anchor="end">40</text>
<text transform="translate(210.3 1647.9) scale(1 1.10)" font-size="49" text-anchor="end">60</text>
<text transform="translate(210.3 1557.6) scale(1 1.10)" font-size="49" text-anchor="end">80</text>
<text transform="translate(210.3 1467.3) scale(1 1.10)" font-size="49" text-anchor="end">100</text>
<text transform="translate(210.3 1377) scale(1 1.10)" font-size="49" text-anchor="end">120</text>
<text transform="translate(210.3 1286.7) scale(1 1.10)" font-size="49" text-anchor="end">140</text>
<text transform="translate(244 1981.3) scale(1 1.10)" font-size="49" text-anchor="middle">0.0</text>
<text transform="translate(390.5 1981.3) scale(1 1.10)" font-size="49" text-anchor="middle">0.2</text>
<text transform="translate(537 1981.3) scale(1 1.10)" font-size="49" text-anchor="middle">0.4</text>
<text transform="translate(683.5 1981.3) scale(1 1.10)" font-size="49" text-anchor="middle">0.6</text>
<text transform="translate(830 1981.3) scale(1 1.10)" font-size="49" text-anchor="middle">0.8</text>
<text transform="translate(976.5 1981.3) scale(1 1.10)" font-size="49" text-anchor="middle">1.0</text>
<text transform="translate(1123 1981.3) scale(1 1.10)" font-size="49" text-anchor="middle">1.2</text>
</g>
<line x1="463" y1="1276.9" x2="463" y2="1902" stroke="#000" stroke-width="3.9" stroke-dasharray="15.7 10.8"/>
<line x1="535.6" y1="1275.1" x2="535.6" y2="1902" stroke="#000" stroke-width="4.8" stroke-dasharray="15.9 10.6"/>
<path d="M259.4 1350.9 L270.4 1374.5 L281.4 1396.4 L292.3 1416.8 L303.3 1435.9 L314.3 1453.6 L325.3 1470.1 L336.3 1485.4 L347.3 1499.7 L358.3 1513.1 L369.3 1525.5 L380.2 1537 L391.2 1547.8 L402.2 1557.8 L413.2 1567.1 L424.2 1575.8 L435.2 1583.9 L446.2 1591.4 L457.2 1598.4 L468.1 1605 L479.1 1611.1 L490.1 1616.7 L501.1 1622 L512.1 1626.9 L523.1 1631.5 L534.1 1635.7 L545.1 1639.7 L556 1643.4 L567 1646.8 L578 1650 L589 1653 L600 1655.8 L611 1658.4 L622 1660.8 L633 1663 L643.9 1665.1 L654.9 1667.1 L665.9 1668.9 L676.9 1670.6 L687.9 1672.2 L698.9 1673.6 L709.9 1675 L720.9 1676.2 L731.8 1677.4 L742.8 1678.5 L753.8 1679.6 L764.8 1680.5 L775.8 1681.4 L786.8 1682.2 L797.8 1683 L808.8 1683.7 L819.7 1684.4 L830.7 1685 L841.7 1685.6 L852.7 1686.1 L863.7 1686.6 L874.7 1687.1 L885.7 1687.5 L896.7 1687.9 L907.6 1688.3 L918.6 1688.7 L929.6 1689 L940.6 1689.3 L951.6 1689.6 L962.6 1689.8 L973.6 1690.1 L984.6 1690.3 L995.5 1690.5 L1006.5 1690.7 L1017.5 1690.9 L1028.5 1691.1 L1039.5 1691.2 L1050.5 1691.4 L1061.5 1691.5 L1072.5 1691.7 L1083.4 1691.8 L1094.4 1691.9 L1105.4 1692" fill="none" stroke="#000" stroke-width="2"/>
<g stroke="#000" stroke-width="2" fill="none">
<path d="M317.2 1376.1 V1498.7 M307.6 1376.1 H326.9 M307.6 1498.7 H326.9"/>
<path d="M390.5 1543.7 V1609.6 M380.8 1543.7 H400.2 M380.8 1609.6 H400.2"/>
<path d="M463.8 1612.4 V1634.2 M454.1 1612.4 H473.4 M454.1 1634.2 H473.4"/>
<path d="M537 1587.7 V1627.2 M527.3 1587.7 H546.7 M527.3 1627.2 H546.7"/>
<path d="M610.2 1636 V1674.7 M600.5 1636 H620 M600.5 1674.7 H620"/>
<path d="M683.5 1674.7 V1715 M673.8 1674.7 H693.2 M673.8 1715 H693.2"/>
</g>
<circle cx="317.2" cy="1451.1" r="11.5" fill="#000"/>
<circle cx="390.5" cy="1569.1" r="11.5" fill="#000"/>
<circle cx="463.8" cy="1612.4" r="11.5" fill="#000"/>
<circle cx="537" cy="1608.5" r="11.5" fill="#000"/>
<circle cx="610.2" cy="1649.4" r="11.5" fill="#000"/>
<circle cx="683.5" cy="1695" r="11.5" fill="#000"/>
<text stroke="#000" stroke-width="0.9" transform="translate(91.7 1583.5) rotate(-90) scale(1 1.07)" font-size="54" text-anchor="middle">C-phase | min</text>
<text transform="translate(590 2066.4) scale(1.07 0.98)" font-size="56" font-style="italic">µ</text>
<text transform="translate(648.3 2064.3) scale(1 1.01)" font-size="56">|</text>
<text transform="translate(696 2070) scale(1 1.04)" font-size="56">h<tspan font-size="37" dy="-18.5" dx="3">-1</tspan></text>
</svg>
</body>
</html>
